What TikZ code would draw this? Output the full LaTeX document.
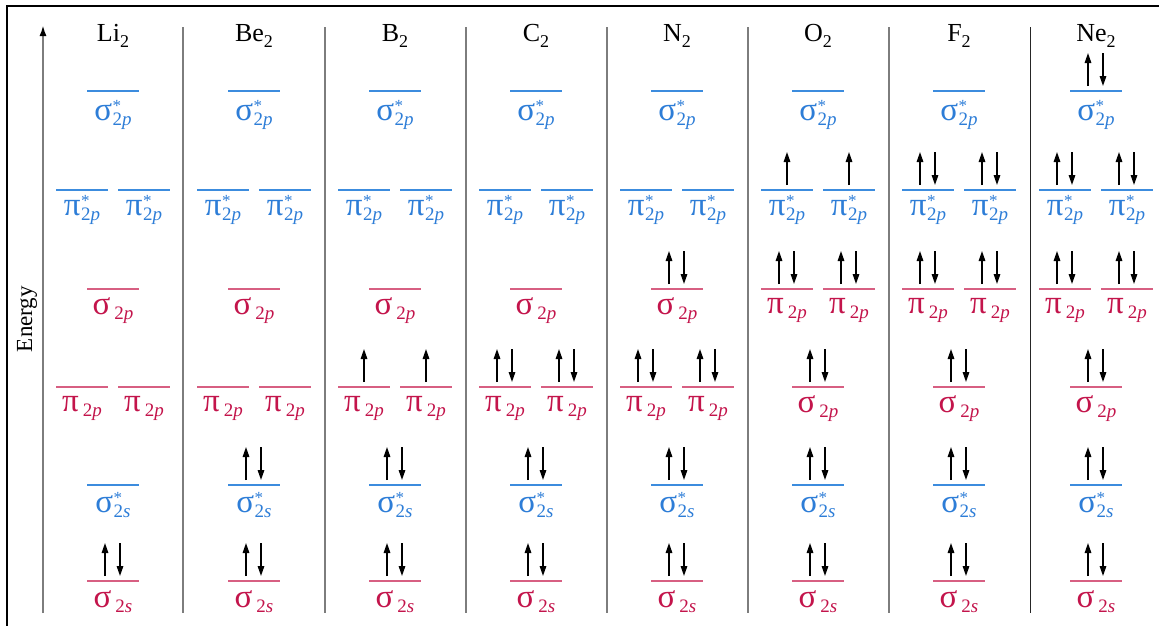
\documentclass[tikz,border=0pt]{standalone}
\usepackage{fontspec}
\setmainfont{Liberation Serif}
\usetikzlibrary{arrows.meta}
\definecolor{blueT}{RGB}{45,125,215}
\definecolor{blueL}{RGB}{60,140,222}
\definecolor{redT}{RGB}{195,20,75}
\definecolor{redL}{RGB}{215,95,130}
\definecolor{sepgray}{RGB}{125,125,125}
\newcommand\abl[2]{{\fontsize{33}{33}\selectfont #1}\kern0.5pt\rlap{\raisebox{9pt}{\fontsize{17}{17}\selectfont *}}\raisebox{-5pt}{\fontsize{19}{19}\selectfont #2}}
\newcommand\bol[2]{{\fontsize{33}{33}\selectfont #1}\kern4pt\raisebox{-5pt}{\fontsize{19}{19}\selectfont #2}}
\newcommand\hdr[1]{#1\raisebox{-6pt}{\fontsize{18}{18}\selectfont 2}}
\newcommand\epair[2]{\draw[el] (#1-8,#2-5) -- (#1-8,#2-38); \draw[el] (#1+7,#2-38) -- (#1+7,#2-5);}
\newcommand\eup[2]{\draw[el] (#1,#2-5) -- (#1,#2-38);}
\begin{document}
\begin{tikzpicture}[x=1pt,y=-1pt,
  lvB/.style={blueL,line width=1.5pt},
  lvR/.style={redL,line width=1.5pt},
  lbB/.style={blueT,anchor=base,inner sep=0pt},
  lbR/.style={redT,anchor=base,inner sep=0pt},
  el/.style={line width=1.5pt,-{Triangle[length=10pt,width=6.5pt]}},
  hd/.style={anchor=base,inner sep=0pt,font=\fontsize{26}{26}\selectfont}]
\useasboundingbox (0,0) rectangle (1159,625);
\draw[line width=2.2pt] (7,626) -- (7,6) -- (1160,6);
% energy axis
\draw[sepgray,line width=2pt,-{Latex[length=11pt,width=7pt,color=black]}] (43,613) -- (43,25);
\node[rotate=90,font=\fontsize{23}{23}\selectfont] (energy) at (27,319) {Energy};
% separators
\foreach \x in {183,325,466,607,748,889} \draw[sepgray,line width=1.6pt] (\x,27) -- (\x,613);
\draw[black!85,line width=1pt] (1030,27) -- (1030,613);
% columns
\foreach \c/\sw/\nm/\hn in {113/0/Li/Li,254/0/Be/Be,395/0/B/B,536/0/C/C,677/0/N/N,818/1/O/O,959/1/F/F,1096/1/Ne/Ne}{
  \node[hd] (h-\nm) at (\c,41) {\hdr{\hn}};
  \pgfmathsetmacro\ysig{\sw==0?289:387}
  \pgfmathsetmacro\ypi{\sw==0?387:289}
  % sigma*2p
  \draw[lvB] (\c-26,91) -- (\c+26,91);
  \node[lbB] (\nm-spa) at (\c,120) {\abl{σ}{2\textit{p}}};
  % pi*2p
  \draw[lvB] (\c-57,190) -- (\c-5,190);
  \draw[lvB] (\c+5,190) -- (\c+57,190);
  \node[lbB] (\nm-ppa1) at (\c-31,215) {\abl{π}{2\textit{p}}};
  \node[lbB] (\nm-ppa2) at (\c+31,215) {\abl{π}{2\textit{p}}};
  % sigma2p
  \draw[lvR] (\c-26,\ysig) -- (\c+26,\ysig);
  \node[lbR] (\nm-sp) at (\c,\ysig+25) {\bol{σ}{2\textit{p}}};
  % pi2p
  \draw[lvR] (\c-57,\ypi) -- (\c-5,\ypi);
  \draw[lvR] (\c+5,\ypi) -- (\c+57,\ypi);
  \node[lbR] (\nm-pp1) at (\c-31,\ypi+24) {\bol{π}{2\textit{p}}};
  \node[lbR] (\nm-pp2) at (\c+31,\ypi+24) {\bol{π}{2\textit{p}}};
  % sigma*2s
  \draw[lvB] (\c-26,485) -- (\c+26,485);
  \node[lbB] (\nm-ssa) at (\c,512) {\abl{σ}{2\textit{s}}};
  % sigma2s
  \draw[lvR] (\c-26,581) -- (\c+26,581);
  \node[lbR] (\nm-ss) at (\c,607) {\bol{σ}{2\textit{s}}};
}
% electrons
% Li2
\epair{113}{581}
% Be2
\epair{254}{581} \epair{254}{485}
% B2
\epair{395}{581} \epair{395}{485} \eup{364}{387} \eup{426}{387}
% C2
\epair{536}{581} \epair{536}{485} \epair{505}{387} \epair{567}{387}
% N2
\epair{677}{581} \epair{677}{485} \epair{646}{387} \epair{708}{387} \epair{677}{289}
% O2
\epair{818}{581} \epair{818}{485} \epair{818}{387} \epair{787}{289} \epair{849}{289} \eup{787}{190} \eup{849}{190}
% F2
\epair{959}{581} \epair{959}{485} \epair{959}{387} \epair{928}{289} \epair{990}{289} \epair{928}{190} \epair{990}{190}
% Ne2
\epair{1096}{581} \epair{1096}{485} \epair{1096}{387} \epair{1065}{289} \epair{1127}{289} \epair{1065}{190} \epair{1127}{190} \epair{1096}{91}
\end{tikzpicture}
\end{document}
